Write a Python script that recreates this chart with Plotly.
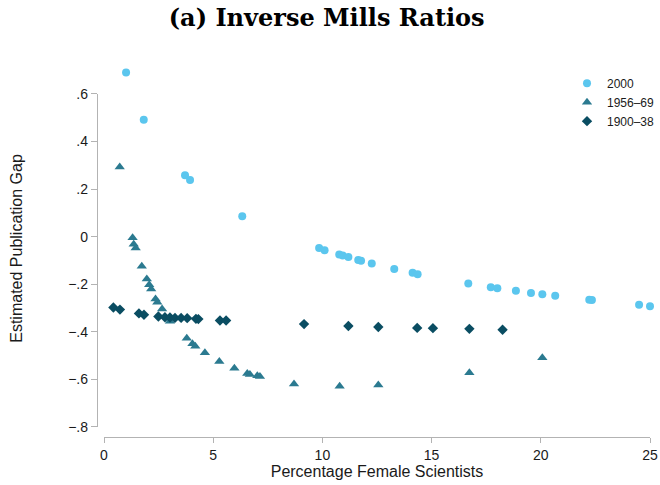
import plotly.graph_objects as go

# ---- data ----
x_2000 = [1.01, 1.82, 3.71, 3.94, 6.33, 9.85, 10.1, 10.77, 10.93, 11.19, 11.64, 11.77, 12.26,
          13.29, 14.13, 14.36, 16.68, 17.71, 18.01, 18.86, 19.55, 20.07, 20.66, 22.22, 22.34,
          24.5, 25.0]
y_2000 = [0.690, 0.492, 0.258, 0.238, 0.086, -0.048, -0.057, -0.075, -0.079, -0.086, -0.098,
          -0.102, -0.113, -0.136, -0.152, -0.158, -0.197, -0.213, -0.217, -0.228, -0.237,
          -0.242, -0.249, -0.266, -0.267, -0.287, -0.293]

x_1956 = [0.72, 1.31, 1.36, 1.45, 1.73, 1.96, 2.07, 2.16, 2.36, 2.44, 2.66, 3.02, 3.79, 4.05,
          4.18, 4.62, 5.28, 5.97, 6.56, 6.68, 7.02, 7.14, 8.70, 10.79, 12.56, 16.73, 20.07]
y_1956 = [0.293, -0.005, -0.032, -0.048, -0.125, -0.178, -0.203, -0.220, -0.262, -0.276,
          -0.304, -0.356, -0.428, -0.451, -0.461, -0.489, -0.525, -0.554, -0.576, -0.580,
          -0.585, -0.588, -0.620, -0.630, -0.624, -0.573, -0.510]

x_1900 = [0.43, 0.73, 1.60, 1.83, 2.49, 2.79, 3.02, 3.25, 3.53, 3.81, 4.21, 4.32, 5.31, 5.59,
          9.16, 11.19, 12.56, 14.34, 15.06, 16.73, 18.25]
y_1900 = [-0.298, -0.307, -0.323, -0.329, -0.336, -0.339, -0.340, -0.342, -0.342, -0.343,
          -0.346, -0.347, -0.353, -0.353, -0.368, -0.376, -0.380, -0.384, -0.385, -0.388,
          -0.392]

series_names = ["2000", "1956\u201369", "1900\u201338"]

x_ticks = [0, 5, 10, 15, 20, 25]
y_ticks = [-0.8, -0.6, -0.4, -0.2, 0, 0.2, 0.4, 0.6]
y_ticktext = ["\u2212.8", "\u2212.6", "\u2212.4", "\u2212.2", "0", ".2", ".4", ".6"]

# ---- layout constants ----
W, H = 660, 485
ML, MR, MT, MB = 97, 10, 60, 48
x_gap_px = 7                # gap between y-axis line and start of x-axis
y_range = [-0.843, 0.743]   # full plotting range of the data axis
axis_col = "#b3b3b3"
txt_col = "#1a1a1a"
sans = "Liberation Sans, Arial, Helvetica, sans-serif"

plot_w = W - ML - MR
span = y_range[1] - y_range[0]
y2_domain = [(y_ticks[0] - y_range[0]) / span, (y_ticks[-1] - y_range[0]) / span]

fig = go.Figure()
fig.add_trace(go.Scatter(x=x_2000, y=y_2000, mode="markers", name=series_names[0],
                         marker=dict(symbol="circle", size=8, color="#5bc6ee"),
                         cliponaxis=False))
fig.add_trace(go.Scatter(x=x_1956, y=y_1956, mode="markers", name=series_names[1],
                         marker=dict(symbol="triangle-up", size=9, color="#2b7a90"),
                         cliponaxis=False))
fig.add_trace(go.Scatter(x=x_1900, y=y_1900, mode="markers", name=series_names[2],
                         marker=dict(symbol="diamond", size=8, color="#0a4d62"),
                         cliponaxis=False))
# empty trace so the detached tick axis is registered
fig.add_trace(go.Scatter(x=[], y=[], yaxis="y2", showlegend=False, hoverinfo="skip"))

fig.update_layout(
    width=W, height=H,
    margin=dict(l=ML, r=MR, t=MT, b=MB, autoexpand=False),
    paper_bgcolor="white", plot_bgcolor="rgba(0,0,0,0)",
    title=dict(text="<b>(a) Inverse Mills Ratios</b>", x=0.495, xanchor="center",
               y=1 - 18 / H, yanchor="middle", yref="container",
               font=dict(family="DejaVu Serif, serif", size=24, color="black")),
    xaxis=dict(domain=[x_gap_px / plot_w, 1], range=[0, 25], tickvals=x_ticks,
               showline=True, linecolor=axis_col, linewidth=1.3,
               ticks="outside", ticklen=5, tickcolor=axis_col, tickwidth=1.3,
               showgrid=False, zeroline=False,
               tickfont=dict(family=sans, size=14, color=txt_col),
               title=dict(text="Percentage Female Scientists", standoff=1,
                          font=dict(family=sans, size=16, color=txt_col))),
    yaxis=dict(domain=[0, 1], range=y_range, showline=False, showticklabels=False,
               ticks="", showgrid=False, zeroline=False,
               title=dict(text="Estimated Publication Gap", standoff=76,
                          font=dict(family=sans, size=16, color=txt_col))),
    yaxis2=dict(domain=y2_domain, range=[y_ticks[0], y_ticks[-1]], anchor="free",
                position=0, side="left", tickvals=y_ticks, ticktext=y_ticktext,
                showline=True, linecolor=axis_col, linewidth=1.3,
                ticks="outside", ticklen=6, tickcolor=axis_col, tickwidth=1.3,
                showgrid=False, zeroline=False,
                tickfont=dict(family=sans, size=14, color=txt_col)),
    legend=dict(x=(W - ML) / plot_w, y=0.977, xanchor="right", yanchor="top",
                bgcolor="rgba(0,0,0,0)", font=dict(family=sans, size=12, color=txt_col),
                tracegroupgap=0),
    showlegend=True,
)

fig.write_html("out.html", config={"displayModeBar": False},
               post_script="document.body.style.margin='0';")
